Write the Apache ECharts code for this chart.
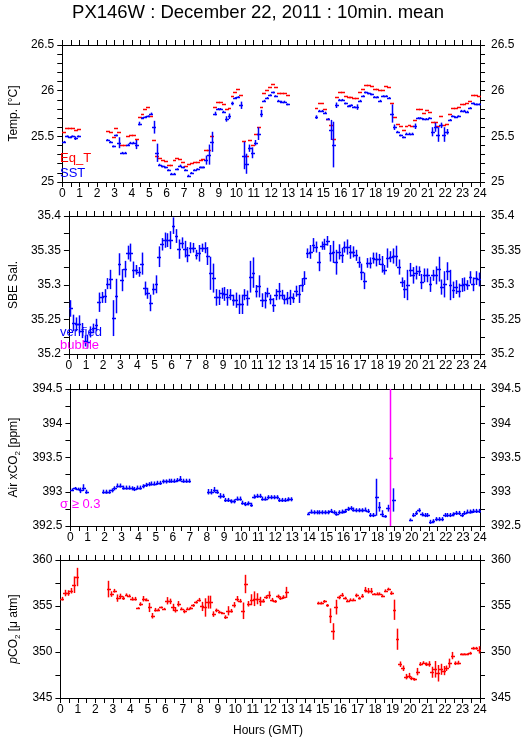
<!DOCTYPE html>
<html>
<head>
<meta charset="utf-8">
<script src="https://cdn.jsdelivr.net/npm/echarts@6/dist/echarts.min.js"></script>
<style>html,body{margin:0;padding:0;background:#fff;}#c{width:529px;height:739px;}</style>
</head>
<body>
<div id="c"></div>
<script>
// ---- 10-minute time slots (hours, GMT) ----
const hours = [
0.08,0.25,0.42,0.58,0.75,0.92, 1.08,1.25,1.42,1.58,1.75,1.92,
2.08,2.25,2.42,2.58,2.75,2.92, 3.08,3.25,3.42,3.58,3.75,3.92,
4.08,4.25,4.42,4.58,4.75,4.92, 5.08,5.25,5.42,5.58,5.75,5.92,
6.08,6.25,6.42,6.58,6.75,6.92, 7.08,7.25,7.42,7.58,7.75,7.92,
8.08,8.25,8.42,8.58,8.75,8.92, 9.08,9.25,9.42,9.58,9.75,9.92,
10.08,10.25,10.42,10.58,10.75,10.92, 11.08,11.25,11.42,11.58,11.75,11.92,
12.08,12.25,12.42,12.58,12.75,12.92, 13.08,13.25,13.42,13.58,13.75,13.92,
14.08,14.25,14.42,14.58,14.75,14.92, 15.08,15.25,15.42,15.58,15.75,15.92,
16.08,16.25,16.42,16.58,16.75,16.92, 17.08,17.25,17.42,17.58,17.75,17.92,
18.08,18.25,18.42,18.58,18.75,18.92, 19.08,19.25,19.42,19.58,19.75,19.92,
20.08,20.25,20.42,20.58,20.75,20.92, 21.08,21.25,21.42,21.58,21.75,21.92,
22.08,22.25,22.42,22.58,22.75,22.92, 23.08,23.25,23.42,23.58,23.75,23.92
];
const hourTicks = [0,1,2,3,4,5,6,7,8,9,10,11,12,13,14,15,16,17,18,19,20,21,22,23,24];

// ---- Panel 1: Equilibrator temperature and SST (deg C) ----
const eqT = [
25.55,25.59,25.59,25.59,25.57,25.58,
null,null,null,null,null,null,null,null,null,
25.56,25.55,25.49,25.59,25.55,25.41,25.40,25.50,25.52,25.52,
25.47,25.71,25.75,25.80,25.82,25.72,25.46,25.29,25.26,25.24,
25.23,25.19,25.19,25.24,25.26,25.25,25.22,25.18,25.20,25.21,
25.22,25.22,25.24,25.25,25.35,25.35,25.50,25.82,25.88,25.88,
25.85,25.80,25.81,25.94,25.99,26.02,25.95,25.45,25.28,25.46,
25.41,25.53,25.60,25.82,25.97,26.01,26.04,26.07,26.04,25.97,
25.97,25.97,25.95,
null,null,null,null,null,null,null,null,null,
25.81,25.87,25.87,25.80,25.69,25.62,25.47,25.93,25.98,25.98,
25.94,25.93,25.93,25.92,25.92,25.98,26.02,26.06,26.06,26.05,
26.02,26.02,26.01,26.01,26.05,26.04,25.87,25.71,25.64,25.61,
25.57,25.61,25.62,25.61,25.68,25.80,25.80,25.76,25.79,25.77,
25.66,25.66,25.61,25.72,25.62,25.63,25.75,25.81,25.81,25.82,
25.85,25.85,25.86,25.89,25.95,25.95,25.94
];
const sst = [
25.44,25.50,25.49,25.50,25.48,25.50,
null,null,null,null,null,null,null,null,null,
25.46,25.44,25.39,25.51,25.43,25.32,25.32,25.41,25.43,25.43,
25.41,25.64,25.70,25.71,25.72,25.75,25.60,25.32,25.19,25.17,
25.16,25.13,25.09,25.09,25.14,25.18,25.16,25.13,25.07,25.10,
25.13,25.14,25.16,25.16,25.24,25.30,25.44,25.75,25.80,25.80,
25.77,25.69,25.72,25.86,25.92,25.93,25.84,25.29,25.20,25.37,
25.32,25.43,25.53,25.75,25.89,25.92,25.95,25.98,25.94,25.89,
25.88,25.88,25.85,
null,null,null,null,null,null,null,null,null,
25.71,25.78,25.78,25.76,25.69,25.57,25.41,25.84,25.90,25.90,
25.86,25.83,25.84,25.82,25.82,25.89,25.94,25.98,25.97,25.96,
25.93,25.93,25.89,25.94,25.94,25.92,25.75,25.60,25.55,25.51,
25.49,25.53,25.53,25.53,25.61,25.70,25.70,25.69,25.69,25.70,
25.55,25.60,25.52,25.62,25.52,25.55,25.68,25.72,25.71,25.72,
25.78,25.78,25.77,25.81,25.86,25.85,25.85
];
// standard deviations of the SST points, in order of the non-empty slots
const sstSd = [
.01,.01,.01,.01,.02,.01,
.01,.01,.01,.01,.06,.01,.01,.01,.01,.01,
.05,.02,.01,.01,.01,.01,.07,.10,.01,.01,
.01,.01,.01,.01,.01,.01,.01,.01,.01,.01,
.01,.01,.01,.01,.05,.11,.11,.02,.01,.01,
.01,.03,.03,.02,.01,.01,.04,.15,.11,.04,
.06,.03,.07,.04,.01,.01,.01,.01,.01,.01,
.01,.01,.01,
.02,.01,.01,.01,.01,.11,.25,.03,.01,.01,
.01,.01,.01,.01,.03,.01,.01,.01,.01,.01,
.01,.01,.01,.01,.01,.01,.10,.03,.01,.01,
.01,.01,.01,.01,.03,.01,.01,.01,.01,.01,
.05,.05,.08,.03,.08,.03,.01,.01,.01,.01,
.01,.01,.01,.01,.01,.01,.01
];

// ---- Panel 2: SBE salinity ----
const sal = [
35.266,35.245,35.243,35.243,35.234,35.219,35.218,35.232,35.237,35.242,
35.275,35.282,35.284,35.302,35.308,35.252,35.284,35.330,35.307,35.323,
35.347,35.347,35.322,35.322,35.319,35.331,35.295,35.288,35.274,35.294,
35.301,35.341,35.359,35.365,35.365,35.365,35.386,35.371,35.352,35.361,
35.352,35.344,35.354,35.354,35.344,35.346,35.354,35.354,35.342,35.317,
35.310,35.282,35.282,35.288,35.287,35.282,35.286,35.278,35.278,35.272,
35.272,35.286,35.281,35.312,35.318,35.291,35.298,35.278,35.278,35.289,
35.279,35.271,
35.286,35.291,35.286,35.279,35.281,35.282,35.281,35.291,35.287,35.300,
35.310,35.346,35.348,35.358,35.355,35.334,35.357,35.359,35.364,35.346,
35.348,35.333,35.348,35.343,35.355,35.355,35.348,35.348,35.343,35.333,
35.319,35.306,35.332,35.332,35.339,35.337,35.337,35.330,35.322,35.339,
35.341,35.342,35.342,35.326,35.304,35.294,35.300,35.322,35.314,35.318,
35.320,35.305,35.314,35.314,35.301,35.314,35.314,35.323,35.297,35.301,
35.320,35.300,35.293,35.297,35.292,35.300,35.301,35.300,35.311,35.301,
35.310,35.308
];
const salSd = [
.012,.012,.010,.013,.011,.008,.010,.008,.007,.009,
.014,.008,.010,.008,.014,.026,.025,.016,.016,.012,
.010,.013,.012,.007,.007,.016,.010,.008,.012,.008,
.013,.015,.009,.011,.010,.013,.012,.010,.014,.008,
.012,.011,.008,.007,.007,.012,.006,.008,.013,.024,
.021,.012,.011,.008,.010,.012,.008,.008,.011,.014,
.014,.008,.011,.023,.022,.009,.016,.010,.012,.007,
.007,.010,
.008,.012,.007,.007,.009,.011,.007,.008,.013,.010,
.010,.007,.010,.010,.008,.014,.006,.008,.007,.012,
.016,.018,.011,.011,.008,.011,.010,.008,.008,.008,
.012,.012,.007,.008,.008,.010,.008,.012,.007,.014,
.008,.011,.015,.011,.007,.013,.022,.010,.012,.010,
.007,.011,.010,.010,.011,.008,.013,.018,.011,.019,
.013,.022,.012,.010,.010,.010,.010,.007,.009,.010,
.010,.010
];

// ---- Panel 3: Air xCO2 (ppm) ----
const xco2 = [
393.03,393.05,393.04,393.02,393.06,393.00,
null,null,null,null,null,
393.00,393.00,393.00,393.02,393.05,393.09,393.09,393.06,393.06,393.06,
393.05,393.04,393.06,393.06,393.08,393.10,393.11,393.12,393.12,393.13,
393.13,393.15,393.15,393.16,393.16,393.16,393.17,393.19,393.16,393.16,
393.16,
null,null,null,null,null,null,
393.00,393.00,393.03,393.00,392.94,392.94,392.88,392.88,392.86,392.86,
392.90,392.90,392.84,392.82,392.83,392.81,392.93,392.94,392.94,392.90,
392.90,392.92,392.92,392.92,392.92,392.88,392.88,392.88,392.89,392.89,
null,null,null,null,null,
392.68,392.71,392.70,392.70,392.70,392.70,392.70,392.70,392.72,392.70,
392.68,392.70,392.71,392.72,392.75,392.76,392.74,392.73,392.73,392.73,
392.74,392.72,392.66,392.66,392.92,392.78,392.68,392.64,392.76,
393.49,392.88,
null,null,null,null,null,
392.59,392.66,392.69,392.73,392.67,392.66,392.66,392.56,392.57,392.60,
392.60,392.60,392.66,392.66,392.66,392.67,392.69,392.69,392.66,392.69,
392.71,392.71,392.72,392.72,392.72
];
const xco2Sd = [
.02,.02,.02,.04,.05,.03,
.03,.03,.03,.03,.03,.03,.03,.03,.03,.03,
.03,.03,.03,.03,.03,.03,.03,.03,.03,.03,
.03,.03,.03,.03,.03,.03,.03,.04,.03,.03,
.03,
.04,.04,.04,.03,.04,.03,.03,.03,.03,.03,
.03,.03,.03,.03,.03,.03,.03,.03,.03,.03,
.03,.03,.03,.03,.03,.03,.03,.03,.03,.03,
.02,.03,.03,.03,.03,.03,.03,.03,.03,.03,
.03,.03,.03,.03,.03,.03,.03,.03,.03,.03,
.03,.03,.03,.03,.27,.07,.05,.02,.05,
1.1,.17,
.02,.03,.03,.03,.03,.03,.03,.03,.03,.03,
.03,.03,.03,.03,.03,.03,.03,.03,.03,.03,
.03,.03,.03,.03,.03
];

// ---- Panel 4: pCO2 (micro atm) ----
const pco2 = [
355.79,356.41,356.41,356.66,357.31,358.15,
null,null,null,null,null,null,null,null,null,null,
356.84,356.30,356.66,355.86,356.04,355.86,356.22,356.11,355.79,355.79,
354.77,355.21,355.79,355.68,354.84,353.94,354.59,354.59,354.84,354.70,
355.57,355.50,354.84,354.59,355.24,354.70,354.41,354.70,354.77,355.06,
355.42,355.68,354.95,354.84,355.42,355.42,354.12,354.52,354.34,354.23,
353.79,354.48,354.48,355.13,355.79,355.57,354.48,357.39,355.24,355.68,
355.79,355.79,355.50,355.57,355.97,356.20,355.68,355.50,356.04,355.86,
355.97,356.48,
null,null,null,null,null,null,null,null,null,null,
355.32,355.32,355.50,355.06,353.94,352.23,354.88,355.93,356.22,355.86,
355.57,355.68,355.68,356.15,355.86,356.11,356.77,356.66,356.66,356.30,
356.33,356.33,356.11,356.66,356.84,356.41,354.59,351.39,348.67,348.23,
347.32,347.43,347.14,347.03,347.87,348.70,348.85,348.67,348.70,347.80,
348.12,347.69,348.12,347.98,348.23,348.78,349.61,348.78,348.85,349.76,
349.76,349.76,349.87,350.41,350.41,350.23
];
const pco2Sd = [
.2,.35,.3,.3,.9,1.0,
.9,.3,.2,.4,.3,.2,.15,.15,.2,.2, .1,.2,.3,.15,.5,.3,.2,.15,.1,.1,
.4,.3,.4,.3,.3,.15,.2,.15,.15,.15, .15,.2,.5,1.0,.7,.7,.3,.2,.15,.1,
.2,.5,.2,.3,.3,.2,.9,1.0,.3,.6, .8,.6,.5,.2,.2,.4,.2,.15,.2,.2, .2,.6,
.15,.15,.15,.15,.8,.9,.8,.2,.2,.15, .15,.15,.15,.2,.15,.2,.3,.3,.3,.1,
.15,.15,.15,.15,.15,.2,1.1,1.15,.3,.3, .3,.3,.2,.15,.4,.2,.15,.2,.3,.6,
.9,.9,.6,.5,.3,.5,.4,.2,.2,.1, .1,.1,.15,.15,.15,.4
];

// ---------------------------------------------------------------
const FONT = '"Liberation Sans", Arial, Helvetica, sans-serif';
const BLUE = '#0000ff', RED = '#ff0000', MAG = '#ff00ff';
const LW = 1.5;

function points(vals, sds) {
  const out = [];
  let j = 0;
  for (let k = 0; k < hours.length; k++) {
    if (vals[k] == null) continue;
    out.push([hours[k], vals[k], sds ? sds[j] : 0]);
    j++;
  }
  return out;
}

function crossRender(colorFn) {
  return function (params, api) {
    const t = api.value(0), v = api.value(1), s = api.value(2);
    const half = 1 / 12;
    const a = api.coord([t - half, v]);
    const b = api.coord([t + half, v]);
    const c = api.coord([t, v]);
    const color = colorFn(s);
    const y = Math.round(c[1]) + 0.5;
    const children = [{
      type: 'line',
      shape: { x1: Math.round(a[0]), y1: y, x2: Math.round(b[0]) + 1, y2: y },
      style: { stroke: color, lineWidth: LW }
    }];
    if (s > 0) {
      const top = api.coord([t, v + s]);
      const bot = api.coord([t, v - s]);
      const x = Math.round(c[0]) + 0.5;
      children.push({
        type: 'line',
        shape: { x1: x, y1: top[1], x2: x, y2: bot[1] },
        style: { stroke: color, lineWidth: LW }
      });
    }
    return { type: 'group', children };
  };
}

const panels = [
  { top: 45, height: 137, min: 25, max: 26.5, interval: 0.5, minor: 5,
    name: 'Temp. [°C]' },
  { top: 216, height: 138, min: 35.2, max: 35.4, interval: 0.05, minor: 2,
    name: 'SBE Sal.' },
  { top: 389, height: 137, min: 392.5, max: 394.5, interval: 0.5, minor: 2,
    name: '{a|Air xCO}{s|2}{a| [ppm]}' },
  { top: 560, height: 138, min: 345, max: 360, interval: 5, minor: 2,
    name: '{i|p}{a|CO}{s|2}{a| [μ atm]}' }
];

const grid = [], xAxis = [], yAxis = [];
const axisLine = { show: true, onZero: false, lineStyle: { color: '#000', width: 1 } };
const tickStyle = { color: '#000', width: 1 };
panels.forEach((p, i) => {
  grid.push({ left: 58, right: 49, top: p.top, height: p.height, containLabel: false });
  const xBase = {
    type: 'value', gridIndex: i, min: 0, max: 24, interval: 1,
    axisLine, splitLine: { show: false },
    axisTick: { show: true, inside: false, length: 5, lineStyle: tickStyle },
    minorTick: { show: true, splitNumber: 2, length: 5, lineStyle: tickStyle },
    axisLabel: { show: true, margin: 6, fontSize: 12, color: '#000', fontFamily: FONT,
      formatter: v => (hourTicks.indexOf(v) >= 0 ? String(v) : '') }
  };
  xAxis.push(Object.assign({}, xBase, { position: 'bottom' }));
  xAxis.push(Object.assign({}, xBase, { position: 'top', axisLabel: { show: false } }));
  const yBase = {
    type: 'value', gridIndex: i, min: p.min, max: p.max, interval: p.interval,
    axisLine, splitLine: { show: false },
    axisTick: { show: true, inside: false, length: 5, lineStyle: tickStyle },
    minorTick: { show: true, splitNumber: p.minor, length: 5, lineStyle: tickStyle },
    axisLabel: { show: true, fontSize: 12, color: '#000', fontFamily: FONT }
  };
  yAxis.push(Object.assign({}, yBase, {
    position: 'left',
    axisLabel: Object.assign({}, yBase.axisLabel, { margin: 8 }),
    name: p.name, nameLocation: 'middle', nameGap: 36, nameRotate: 90,
    nameTextStyle: {
      fontSize: 12, color: '#000', fontFamily: FONT,
      rich: {
        a: { fontSize: 12, color: '#000', fontFamily: FONT },
        i: { fontSize: 12, color: '#000', fontFamily: FONT, fontStyle: 'italic' },
        s: { fontSize: 8, color: '#000', fontFamily: FONT, padding: [7, 0, 0, 0] }
      }
    }
  }));
  yAxis.push(Object.assign({}, yBase, {
    position: 'right',
    axisLabel: Object.assign({}, yBase.axisLabel, { margin: 11 })
  }));
});

function custom(i, data, colorFn, z) {
  return {
    type: 'custom', xAxisIndex: 2 * i, yAxisIndex: 2 * i,
    clip: true, z: z || 2,
    encode: { x: 0, y: 1 },
    renderItem: crossRender(colorFn),
    data
  };
}

const series = [
  custom(0, points(eqT, null), () => RED, 2),
  custom(0, points(sst, sstSd), () => BLUE, 3),
  custom(1, points(sal, salSd), () => BLUE, 3),
  custom(2, points(xco2, xco2Sd), s => (s >= 0.3 ? MAG : BLUE), 3),
  custom(3, points(pco2, pco2Sd), () => RED, 3)
];

function txt(text, x, y, color, size, align) {
  return {
    type: 'text', x, y, z: 10,
    style: { text, fill: color, font: size + 'px ' + FONT,
      align: align || 'left', verticalAlign: 'middle' }
  };
}

const graphic = [
  txt('PX146W : December 22, 2011 : 10min. mean', 258, 13, '#000', 18.5, 'center'),
  txt('Eq_T', 60, 158, RED, 13),
  txt('SST', 60, 173, BLUE, 13),
  txt('verified', 60, 332, BLUE, 13),
  txt('bubble', 60, 345, MAG, 13),
  txt('σ ≥ 0.3', 60, 504, MAG, 13),
  txt('Hours (GMT)', 268, 731, '#000', 12, 'center')
];

const chart = echarts.init(document.getElementById('c'), null, { renderer: 'canvas', devicePixelRatio: 1 });
chart.setOption({
  backgroundColor: '#fff',
  animation: false,
  grid, xAxis, yAxis, series, graphic
});
</script>
</body>
</html>
